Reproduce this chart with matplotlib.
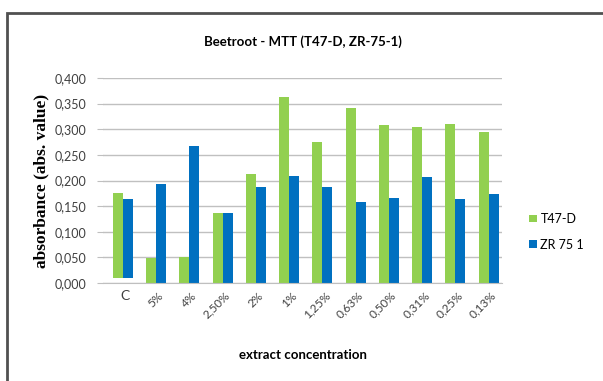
import matplotlib.pyplot as plt
import numpy as np
from matplotlib.patches import Rectangle

categories = ["C", "5%", "4%", "2,50%", "2%", "1%", "1,25%", "0,63%", "0,50%", "0,31%", "0,25%", "0,13%"]
t47d = [0.176, 0.049, 0.051, 0.137, 0.212, 0.363, 0.275, 0.341, 0.309, 0.305, 0.311, 0.294]
zr751 = [0.164, 0.193, 0.267, 0.137, 0.187, 0.209, 0.187, 0.159, 0.165, 0.206, 0.163, 0.174]
# the control bars start slightly above zero in the original
bottoms = [0.010, 0, 0, 0, 0, 0, 0, 0, 0, 0, 0, 0]

green = "#92d050"
blue = "#0070c0"

fig = plt.figure(figsize=(6.03, 3.81), dpi=100)
ax = fig.add_axes([103 / 603, 1 - 283 / 381, 399 / 603, 205 / 381])

x = np.arange(len(categories))
w = 0.3
ax.bar(x - w / 2 + 0.1, np.array(t47d) - np.array(bottoms), w, bottom=bottoms, color=green, label="T47-D")
ax.bar(x + w / 2 + 0.1, np.array(zr751) - np.array(bottoms), w, bottom=bottoms, color=blue, label="ZR 75 1")

ax.set_xlim(-0.5, len(categories) - 0.5)
ax.set_ylim(0, 0.4)
yt = np.arange(0, 0.401, 0.05)
ax.set_yticks(yt)
ax.set_yticklabels([f"{v:.3f}".replace(".", ",") for v in yt], fontsize=9, family="Lato", color="#404040")
ax.set_xticks(x + 0.15)
ax.set_xticklabels(categories, rotation=45, ha="right", rotation_mode="anchor", fontsize=8.5, family="Lato", color="#404040")
lbl = ax.get_xticklabels()[0]
lbl.set_rotation(0)
lbl.set_ha("center")
lbl.set_fontsize(10)
ax.tick_params(axis="x", length=0, pad=5)
ax.tick_params(axis="y", length=4, color="#bfbfbf", pad=8)
ax.yaxis.grid(True, color="#c0c0c0", linewidth=1)
ax.set_axisbelow(True)
for s in ["top", "right", "left"]:
    ax.spines[s].set_visible(False)
ax.spines["bottom"].set_color("#bfbfbf")

ax.set_title("Beetroot - MTT (T47-D, ZR-75-1)", fontsize=9.5, fontweight="bold", family="Lato", pad=23)
ax.set_xlabel("extract concentration", fontsize=9.5, fontweight="bold", family="Lato", labelpad=20)
ax.set_ylabel("absorbance (abs. value)", fontsize=12.5, fontweight="bold", family="Liberation Serif", labelpad=4)

ax.legend(loc="center left", bbox_to_anchor=(1.04, 0.25), frameon=False,
          handlelength=0.6, handleheight=0.6, handletextpad=0.3, labelspacing=1.1,
          prop={"family": "Lato", "size": 9})

# chart frame
fig.patches.append(Rectangle((7 / 603, -0.1), 1.2, 1 - 13 / 381 + 0.1, transform=fig.transFigure,
                             fill=False, edgecolor="#505050", linewidth=2))

fig.savefig("out.png", dpi=100)
